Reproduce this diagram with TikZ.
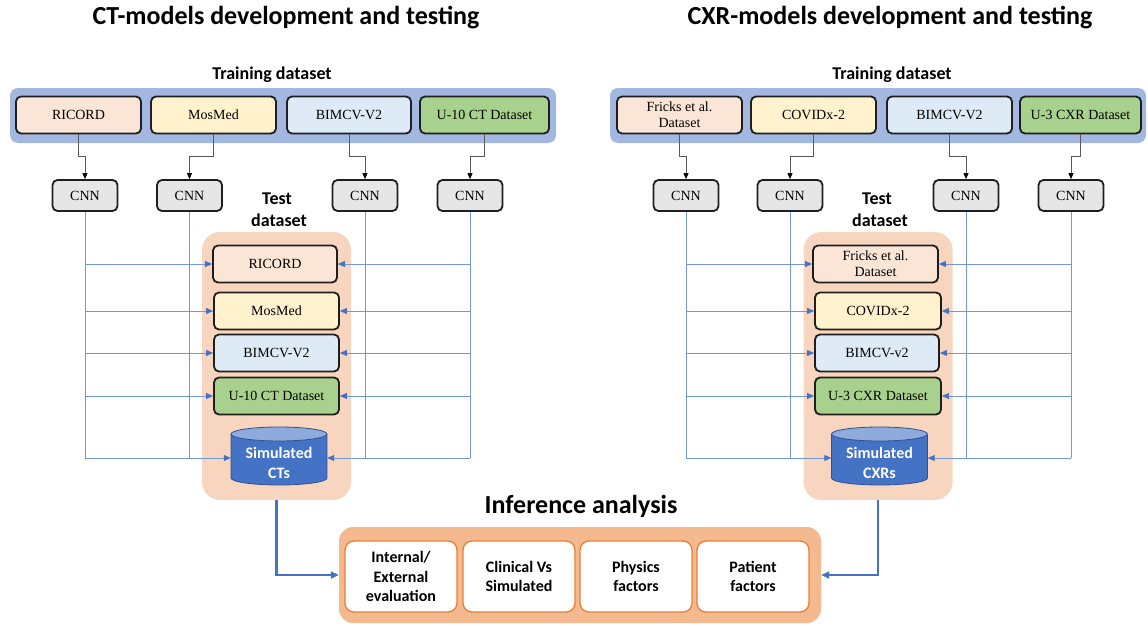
\documentclass[tikz,border=0pt]{standalone}
\usepackage{fontspec}
\setmainfont{Liberation Serif}
\newfontfamily\calib{Carlito}
\usetikzlibrary{arrows.meta,calc}
\definecolor{bandblue}{HTML}{A3B8E1}
\definecolor{cricord}{HTML}{FBE5D6}
\definecolor{cmosmed}{HTML}{FFF2CC}
\definecolor{cbimcv}{HTML}{DEEBF7}
\definecolor{ugreen}{HTML}{A9D18E}
\definecolor{cnngray}{HTML}{E7E6E6}
\definecolor{testfill}{HTML}{F8D5BE}
\definecolor{inffill}{HTML}{F4B98E}
\definecolor{infborder}{HTML}{ED7D31}
\definecolor{cylblue}{HTML}{4472C4}
\definecolor{cyltop}{HTML}{8FAADC}
\definecolor{cyledge}{HTML}{2F528F}
\definecolor{linkblue}{HTML}{7398DA}
\definecolor{darkline}{HTML}{1E1E1E}
\newcommand{\drawcyl}[1]{%
  \fill[cylblue] (#1-48,434) rectangle (#1+48,478);
  \fill[cylblue] (#1,478) ellipse [x radius=48, y radius=7];
  \draw[cyledge, line width=0.8pt] (#1-48,434) -- (#1-48,478)
     arc[start angle=180, end angle=0, x radius=48, y radius=7] -- (#1+48,434);
  \filldraw[fill=cyltop, draw=cyledge, line width=0.8pt] (#1,434) ellipse [x radius=48, y radius=7];
}
\begin{document}
\begin{tikzpicture}[x=1pt,y=-1pt,
  dbox/.style={draw=darkline, line width=1.8pt, rounded corners=5pt, minimum width=124pt,
     minimum height=37pt, inner sep=0pt, font=\fontsize{14}{16}\selectfont, align=center},
  cnnbox/.style={dbox, fill=cnngray, minimum width=65pt, minimum height=31pt},
  bandbox/.style={fill=bandblue, rounded corners=8pt, inner sep=0pt},
  tcontainer/.style={fill=testfill, rounded corners=18pt, inner sep=0pt, minimum width=149pt, minimum height=268pt},
  titletext/.style={font=\calib\bfseries\fontsize{26}{30}\selectfont, anchor=base, inner sep=0pt},
  subtitle/.style={font=\calib\bfseries\fontsize{18}{22}\selectfont, anchor=base, inner sep=0pt},
  feed/.style={draw=black!65, line width=0.7pt, -{Triangle[length=6pt,width=5pt,color=black]}},
  link/.style={draw=linkblue, line width=0.8pt},
  linkarrow/.style={link, -{Triangle[length=7pt,width=6pt,color=cylblue]}},
  bigarrow/.style={draw=cylblue, line width=2.2pt, -{Triangle[length=8pt,width=7pt]}},
  infbox/.style={draw=infborder, fill=white, line width=1.3pt, rounded corners=9pt,
     minimum width=112pt, minimum height=71pt, inner sep=0pt, align=center,
     font=\calib\bfseries\fontsize{16}{19.5}\selectfont},
  simtext/.style={font=\calib\bfseries\fontsize{16}{19.5}\selectfont, text=white, align=center, inner sep=0pt},
  anchorbox/.style={inner sep=0pt, minimum width=96pt, minimum height=58pt}
]
\useasboundingbox (0,0) rectangle (1148,626);

% ---------- titles ----------
\node[titletext] (titleL) at (286,25) {CT-models development and testing};
\node[titletext] (titleR) at (890,25) {CXR-models development and testing};
\node[subtitle] (trainL) at (272,80) {Training dataset};
\node[subtitle] (trainR) at (892,80) {Training dataset};

% ---------- training bands ----------
\node[bandbox, minimum width=546pt, minimum height=55pt] (bandL) at (283,115.5) {};
\node[bandbox, minimum width=536pt, minimum height=55pt] (bandR) at (878,115.5) {};

\node[dbox, fill=cricord, minimum width=125pt] (tL1) at (78.5,115) {RICORD};
\node[dbox, fill=cmosmed, minimum width=125pt] (tL2) at (213.5,115) {MosMed};
\node[dbox, fill=cbimcv] (tL3) at (349,115) {BIMCV-V2};
\node[dbox, fill=ugreen, minimum width=129pt] (tL4) at (484.5,115) {U-10 CT Dataset};

\node[dbox, fill=cricord, minimum width=125pt, font=\fontsize{14}{16}\selectfont] (tR1) at (679.5,115) {Fricks et al.\\Dataset};
\node[dbox, fill=cmosmed, minimum width=125pt] (tR2) at (813.5,115) {COVIDx-2};
\node[dbox, fill=cbimcv, minimum width=125pt] (tR3) at (949.5,115) {BIMCV-V2};
\node[dbox, fill=ugreen, minimum width=121pt] (tR4) at (1080.5,115) {U-3 CXR Dataset};

% ---------- CNNs ----------
\node[cnnbox] (cL1) at (85,195.5) {CNN};
\node[cnnbox] (cL2) at (189.5,195.5) {CNN};
\node[cnnbox] (cL3) at (365,195.5) {CNN};
\node[cnnbox] (cL4) at (470,195.5) {CNN};
\node[cnnbox] (cR1) at (686,195.5) {CNN};
\node[cnnbox] (cR2) at (790,195.5) {CNN};
\node[cnnbox] (cR3) at (966,195.5) {CNN};
\node[cnnbox] (cR4) at (1071,195.5) {CNN};

\foreach \a/\b in {tL1/cL1,tL2/cL2,tL3/cL3,tL4/cL4,tR1/cR1,tR2/cR2,tR3/cR3,tR4/cR4}{
  \draw[feed] (\a.south) |- ($(\a.south)!0.5!(\b.north)$) -| (\b.north);
}

% ---------- test dataset labels ----------
\node[subtitle] (testL1) at (277,204) {Test};
\node[subtitle] (testL2) at (279,226) {dataset};
\node[subtitle] (testR1) at (877,204) {Test};
\node[subtitle] (testR2) at (880,226) {dataset};

% ---------- test containers ----------
\node[tcontainer] (ctL) at (276.5,366) {};
\node[tcontainer] (ctR) at (878,366) {};

% ---------- blue link lines (under boxes) ----------
\node[anchorbox] (sL) at (279,458) {};
\node[anchorbox] (sR) at (879.5,458) {};
\foreach \c in {cL1,cL2,cL3,cL4}{\draw[link] (\c.south) -- (\c.south |- sL.west);}
\foreach \c in {cR1,cR2,cR3,cR4}{\draw[link] (\c.south) -- (\c.south |- sR.west);}

% test boxes
\node[dbox, fill=cricord] (xL1) at (275,264) {RICORD};
\node[dbox, fill=cmosmed, minimum width=125pt] (xL2) at (276.5,311) {MosMed};
\node[dbox, fill=cbimcv, minimum width=125pt] (xL3) at (276.5,353) {BIMCV-V2};
\node[dbox, fill=ugreen, minimum width=125pt] (xL4) at (276.5,396) {U-10 CT Dataset};
\node[dbox, fill=cricord, minimum width=125pt] (xR1) at (875.5,264) {Fricks et al.\\Dataset};
\node[dbox, fill=cmosmed, minimum width=126pt] (xR2) at (878,311) {COVIDx-2};
\node[dbox, fill=cbimcv, minimum width=124pt] (xR3) at (877,353) {BIMCV-v2};
\node[dbox, fill=ugreen, minimum width=126pt] (xR4) at (878,396) {U-3 CXR Dataset};

% cylinders
\drawcyl{279}
\drawcyl{879.5}
\node[simtext] (sLt) at (279,463) {Simulated\\CTs};
\node[simtext] (sRt) at (879.5,463) {Simulated\\CXRs};

\foreach \t in {xL1,xL2,xL3,xL4}{
  \draw[linkarrow] (cL1.south |- \t.west) -- (\t.west);
  \draw[linkarrow] (cL4.south |- \t.east) -- (\t.east);
}
\draw[linkarrow] (cL1.south |- sL.west) -- (sL.west);
\draw[linkarrow] (cL4.south |- sL.east) -- (sL.east);
\foreach \t in {xR1,xR2,xR3,xR4}{
  \draw[linkarrow] (cR1.south |- \t.west) -- (\t.west);
  \draw[linkarrow] (cR4.south |- \t.east) -- (\t.east);
}
\draw[linkarrow] (cR1.south |- sR.west) -- (sR.west);
\draw[linkarrow] (cR4.south |- sR.east) -- (sR.east);

% ---------- inference analysis ----------
\node[titletext] (infT) at (581,513) {Inference analysis};
\node[fill=inffill, rounded corners=14pt, minimum width=482pt, minimum height=96pt, inner sep=0pt] (iC) at (580,575) {};
\node[infbox] (i1) at (401,576.5) {Internal/\\External\\evaluation};
\node[infbox] (i2) at (519,576.5) {Clinical Vs\\Simulated};
\node[infbox] (i3) at (636,576.5) {Physics\\factors};
\node[infbox] (i4) at (753,576.5) {Patient\\factors};

\draw[bigarrow] (ctL.south) |- (iC.west);
\draw[bigarrow] (ctR.south) |- (iC.east);
\end{tikzpicture}
\end{document}
